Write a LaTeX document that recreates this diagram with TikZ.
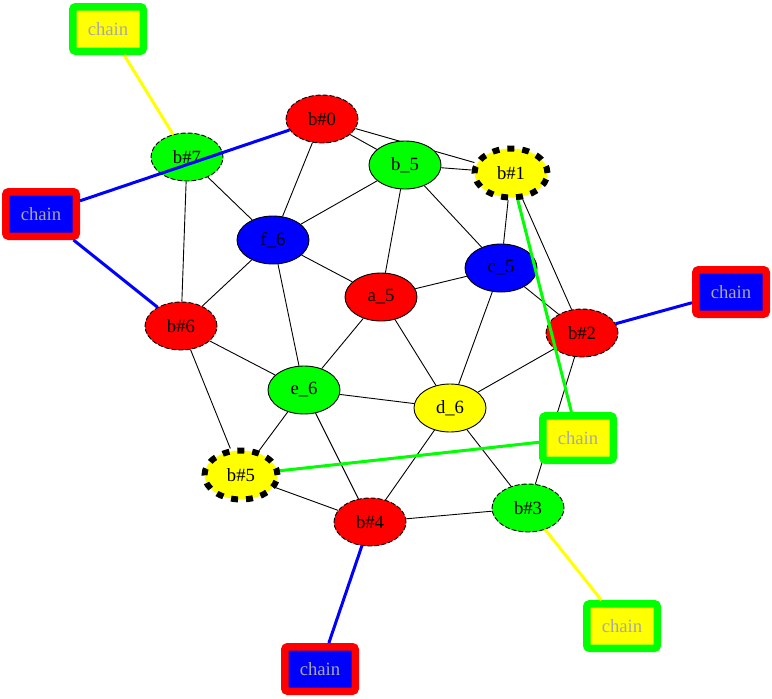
\documentclass[tikz,border=0pt]{standalone}
\usepackage{fontspec}
\setmainfont{Liberation Serif}
\usetikzlibrary{shapes.geometric,backgrounds}
\definecolor{cgreen}{RGB}{0,255,0}
\definecolor{cred}{RGB}{255,0,0}
\definecolor{cblue}{RGB}{0,0,255}
\definecolor{cyellow}{RGB}{255,255,0}
\definecolor{cgray}{RGB}{168,168,168}
\begin{document}
\begin{tikzpicture}[x=1pt,y=-1pt,
  el/.style={ellipse, draw, line width=0.9pt, minimum width=72pt, minimum height=48pt, inner sep=0pt, font=\fontsize{18.67}{18.67}\selectfont},
  bd/.style={el, dash pattern=on 5pt off 2pt},
  bt/.style={el, line width=6pt, minimum width=73pt, minimum height=49pt, dash pattern=on 7pt off 8pt},
  chainbox/.style={draw, rounded corners=3pt, line width=7.5pt, minimum width=70.5pt, minimum height=44.5pt, inner sep=0pt, text=cgray, font=\fontsize{18.67}{18.67}\selectfont},
  gy/.style={chainbox, draw=cgreen, fill=cyellow},
  rb/.style={chainbox, draw=cred, fill=cblue},
  ed/.style={draw, line width=0.9pt},
  ce/.style={draw, line width=3pt}]
\useasboundingbox (0,0) rectangle (772,699);
% nodes
\node[bd, fill=cred]    (n0) at (322,119) {b\#0};
\node[bt, fill=cyellow] (n1) at (511,173) {b\#1};
\node[el, fill=cgreen]  (b5) at (405,165) {b\_5};
\node[bd, fill=cgreen]  (n7) at (187,157) {b\#7};
\node[el, fill=cblue]   (f6) at (273,240) {f\_6};
\node[el, fill=cred]    (a5) at (381,297) {a\_5};
\node[el, fill=cblue]   (c5) at (501,268) {c\_5};
\node[bd, fill=cred]    (n2) at (582,333) {b\#2};
\node[bd, fill=cred]    (n6) at (181,326) {b\#6};
\node[el, fill=cgreen]  (e6) at (304,390) {e\_6};
\node[el, fill=cyellow] (d6) at (450,408) {d\_6};
\node[bt, fill=cyellow] (n5) at (241,475) {b\#5};
\node[bd, fill=cred]    (n4) at (370,522) {b\#4};
\node[bd, fill=cgreen]  (n3) at (528,508) {b\#3};
% chains
\node[gy] (ch1) at (108,29) {chain};
\node[rb] (ch2) at (41,214) {chain};
\node[rb] (ch3) at (731,292) {chain};
\node[gy] (ch4) at (578,438) {chain};
\node[gy] (ch5) at (622,626) {chain};
\node[rb] (ch6) at (320,669) {chain};
% edges
\begin{scope}[on background layer]
\foreach \a/\b in {n0/f6, n0/b5, n0/n1, n7/f6, n7/n6, b5/f6, b5/a5, b5/c5, b5/n1,
  n1/c5, n1/n2, f6/a5, f6/n6, f6/e6, a5/c5, a5/e6, a5/d6, c5/n2, c5/d6,
  n6/e6, n6/n5, e6/d6, e6/n5, e6/n4, d6/n2, d6/n4, d6/n3, n5/n4, n4/n3, n2/n3}
  \path[ed] (\a) -- (\b);
\end{scope}
\path[ce, draw=cyellow] (n7) -- (ch1);
\path[ce, draw=cblue] (n0) -- (ch2);
\path[ce, draw=cblue] (n6) -- (ch2);
\path[ce, draw=cblue] (n2) -- (ch3);
\path[ce, draw=cgreen] (n1) -- (ch4);
\path[ce, draw=cgreen] (n5) -- (ch4);
\path[ce, draw=cyellow] (n3) -- (ch5);
\path[ce, draw=cblue] (n4) -- (ch6);
\end{tikzpicture}
\end{document}
